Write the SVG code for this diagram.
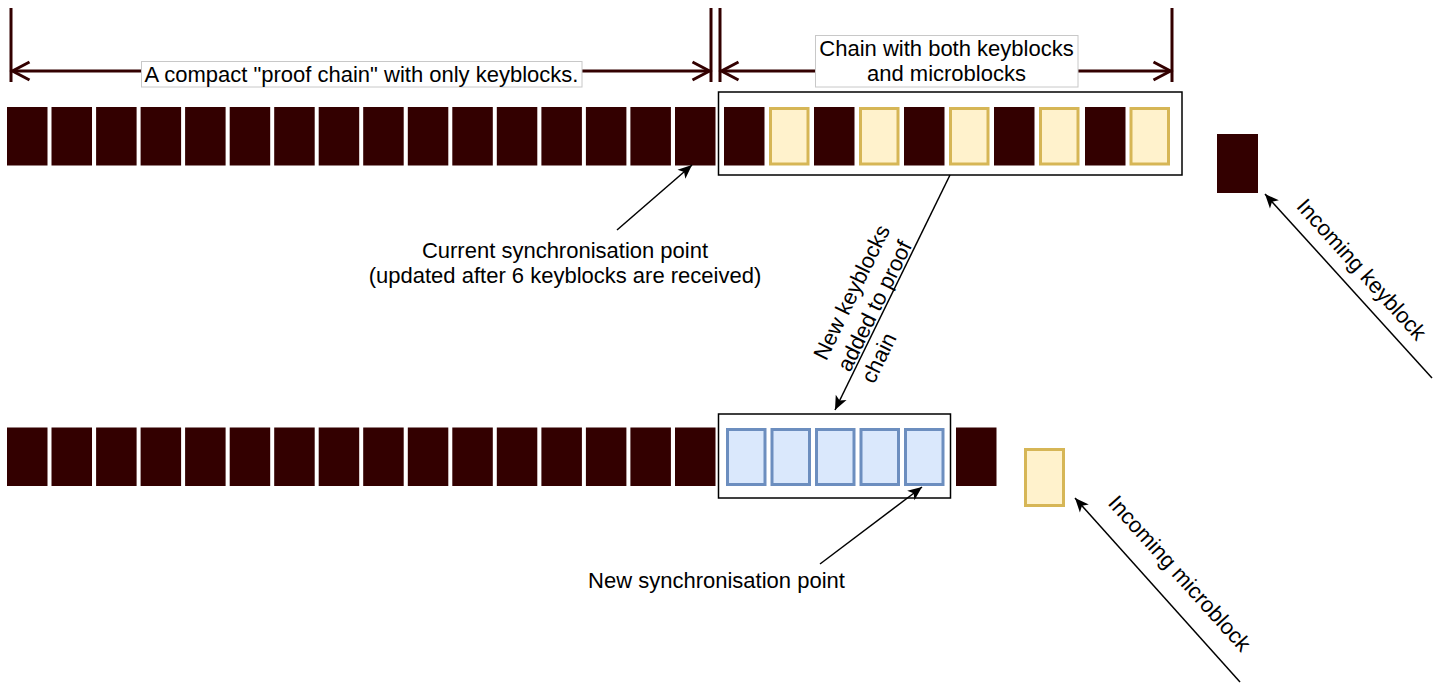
<svg xmlns="http://www.w3.org/2000/svg" width="1440" height="685" viewBox="0 0 1440 685">
<style>
.k{fill:#330000;stroke:none}
.m{fill:#fff2cc;stroke:#d6b656;stroke-width:3}
.b{fill:#dae8fc;stroke:#6c8ebf;stroke-width:3}
.box{fill:none;stroke:#000;stroke-width:1.5}
.lbl{fill:#fff;stroke:#c8c8c8;stroke-width:1}
.dim{stroke:#330000;stroke-width:3;fill:none}
.con{stroke:#000;stroke-width:1.5;fill:none}
text{font-family:"Liberation Sans",Arial,Helvetica,sans-serif;font-size:22px;fill:#000}
</style>
<defs>
<marker id="open" markerUnits="userSpaceOnUse" viewBox="-22 -12 26 24" markerWidth="26" markerHeight="24" refX="0" refY="0" orient="auto-start-reverse" overflow="visible">
<path d="M-17,-9 L0,0 L-17,9" fill="none" stroke="#330000" stroke-width="3"/>
</marker>
<marker id="arr" markerUnits="userSpaceOnUse" viewBox="-15 -7 17 14" markerWidth="17" markerHeight="14" refX="0" refY="0" orient="auto" overflow="visible">
<path d="M-14,-6 L0,0 L-14,6 L-10.5,0 z" fill="#000"/>
</marker>
</defs>

<g id="dimensions">
<line class="dim" x1="11" y1="8" x2="11" y2="82"/>
<line class="dim" x1="711" y1="8" x2="711" y2="82"/>
<line class="dim" x1="720" y1="8" x2="720" y2="82"/>
<line class="dim" x1="1172" y1="8" x2="1172" y2="82"/>
<line class="dim" x1="12.5" y1="71" x2="709.5" y2="71" marker-start="url(#open)" marker-end="url(#open)"/>
<line class="dim" x1="721.5" y1="71" x2="1170.5" y2="71" marker-start="url(#open)" marker-end="url(#open)"/>
</g>

<g id="label-proof-chain">
<rect class="lbl" x="141.5" y="61.5" width="440.5" height="25.5"/>
<text x="361.5" y="81.5" text-anchor="middle">A compact "proof chain" with only keyblocks.</text>
</g>
<g id="label-both-chain">
<rect class="lbl" x="815.5" y="35.5" width="262.5" height="51.5"/>
<text x="946.5" y="55.5" text-anchor="middle">Chain with both keyblocks</text>
<text x="946.5" y="80.5" text-anchor="middle">and microblocks</text>
</g>

<g id="top-proof-chain">
<rect class="k" x="7" y="107" width="40.5" height="58.5"/>
<rect class="k" x="51.5" y="107" width="40.5" height="58.5"/>
<rect class="k" x="96.1" y="107" width="40.5" height="58.5"/>
<rect class="k" x="140.6" y="107" width="40.5" height="58.5"/>
<rect class="k" x="185.1" y="107" width="40.5" height="58.5"/>
<rect class="k" x="229.7" y="107" width="40.5" height="58.5"/>
<rect class="k" x="274.2" y="107" width="40.5" height="58.5"/>
<rect class="k" x="318.7" y="107" width="40.5" height="58.5"/>
<rect class="k" x="363.2" y="107" width="40.5" height="58.5"/>
<rect class="k" x="407.8" y="107" width="40.5" height="58.5"/>
<rect class="k" x="452.3" y="107" width="40.5" height="58.5"/>
<rect class="k" x="496.8" y="107" width="40.5" height="58.5"/>
<rect class="k" x="541.4" y="107" width="40.5" height="58.5"/>
<rect class="k" x="585.9" y="107" width="40.5" height="58.5"/>
<rect class="k" x="630.4" y="107" width="40.5" height="58.5"/>
<rect class="k" x="675" y="107" width="40.5" height="58.5"/>
</g>

<g id="top-mixed-chain">
<rect class="box" x="718.5" y="92" width="463.5" height="83"/>
<rect class="k" x="724" y="107" width="40.5" height="58.5"/>
<rect class="m" x="770.5" y="108.5" width="37.5" height="55.5"/>
<rect class="k" x="814" y="107" width="40.5" height="58.5"/>
<rect class="m" x="860.5" y="108.5" width="37.5" height="55.5"/>
<rect class="k" x="904" y="107" width="40.5" height="58.5"/>
<rect class="m" x="950.5" y="108.5" width="37.5" height="55.5"/>
<rect class="k" x="994" y="107" width="40.5" height="58.5"/>
<rect class="m" x="1040.5" y="108.5" width="37.5" height="55.5"/>
<rect class="k" x="1085" y="107" width="40.5" height="58.5"/>
<rect class="m" x="1131" y="108.5" width="37.5" height="55.5"/>
</g>

<g id="incoming-keyblock-block">
<rect class="k" x="1217" y="134" width="41" height="59"/>
</g>

<g id="bottom-proof-chain">
<rect class="k" x="7" y="427.5" width="40.5" height="58.5"/>
<rect class="k" x="51.5" y="427.5" width="40.5" height="58.5"/>
<rect class="k" x="96.1" y="427.5" width="40.5" height="58.5"/>
<rect class="k" x="140.6" y="427.5" width="40.5" height="58.5"/>
<rect class="k" x="185.1" y="427.5" width="40.5" height="58.5"/>
<rect class="k" x="229.7" y="427.5" width="40.5" height="58.5"/>
<rect class="k" x="274.2" y="427.5" width="40.5" height="58.5"/>
<rect class="k" x="318.7" y="427.5" width="40.5" height="58.5"/>
<rect class="k" x="363.2" y="427.5" width="40.5" height="58.5"/>
<rect class="k" x="407.8" y="427.5" width="40.5" height="58.5"/>
<rect class="k" x="452.3" y="427.5" width="40.5" height="58.5"/>
<rect class="k" x="496.8" y="427.5" width="40.5" height="58.5"/>
<rect class="k" x="541.4" y="427.5" width="40.5" height="58.5"/>
<rect class="k" x="585.9" y="427.5" width="40.5" height="58.5"/>
<rect class="k" x="630.4" y="427.5" width="40.5" height="58.5"/>
<rect class="k" x="675" y="427.5" width="40.5" height="58.5"/>
</g>

<g id="bottom-new-keyblocks">
<rect class="box" x="718.5" y="414" width="232" height="84"/>
<rect class="b" x="727.5" y="429.5" width="37.5" height="55"/>
<rect class="b" x="772" y="429.5" width="37.5" height="55"/>
<rect class="b" x="816.5" y="429.5" width="37.5" height="55"/>
<rect class="b" x="861" y="429.5" width="37.5" height="55"/>
<rect class="b" x="905.5" y="429.5" width="37.5" height="55"/>
</g>

<g id="bottom-tip-keyblock">
<rect class="k" x="956" y="427.5" width="40.5" height="58.5"/>
</g>

<g id="incoming-microblock-block">
<rect class="m" x="1025.5" y="449.5" width="38" height="56"/>
</g>

<g id="connectors">
<line class="con" x1="617" y1="230" x2="692" y2="165" marker-end="url(#arr)"/>
<line class="con" x1="950" y1="175" x2="835" y2="410" marker-end="url(#arr)"/>
<line class="con" x1="1432" y1="378" x2="1265" y2="194" marker-end="url(#arr)"/>
<line class="con" x1="820" y1="564" x2="922" y2="487" marker-end="url(#arr)"/>
<line class="con" x1="1240" y1="682" x2="1075" y2="498" marker-end="url(#arr)"/>
</g>

<g id="label-current-sync">
<text x="565" y="258" text-anchor="middle">Current synchronisation point</text>
<text x="565" y="283" text-anchor="middle">(updated after 6 keyblocks are received)</text>
</g>
<g id="label-new-keyblocks" transform="translate(875,304) rotate(-64)">
<text x="-73" y="-18.7">New keyblocks</text>
<text x="-73" y="7.9">added to proof</text>
<text x="-73" y="34.5">chain</text>
</g>
<g id="label-incoming-keyblock" transform="translate(1362,269) rotate(48)">
<text x="0" y="8" text-anchor="middle">Incoming keyblock</text>
</g>
<g id="label-new-sync">
<text x="716.5" y="588" text-anchor="middle">New synchronisation point</text>
</g>
<g id="label-incoming-microblock" transform="translate(1180,573) rotate(48)">
<text x="0" y="8" text-anchor="middle">Incoming microblock</text>
</g>
</svg>
